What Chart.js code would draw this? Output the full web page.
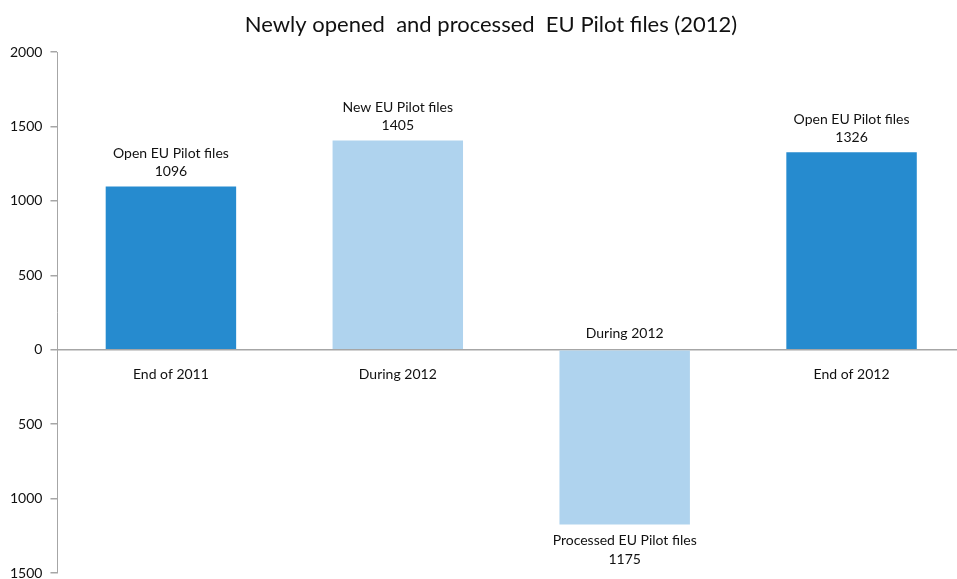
<!DOCTYPE html>
<html lang="en">
    <head>
        <meta charset="UTF-8" />
        <title>EU Pilot files 2012</title>
        <style>
            body, html {
                margin: 0;
                padding: 0;
                background: #ffffff;
                overflow: hidden;
            }
            /* the original plot is cropped on the right, so the canvas is a bit wider than the panel */
            #chart-panel {
                width: 957px;
                height: 579px;
                overflow: hidden;
            }
        </style>
    </head>
    <body>
        <div id="chart-panel">
            <canvas id="bar-chart" width="967" height="579"></canvas>
        </div>
    </body>
    <script src="https://cdn.jsdelivr.net/npm/chart.js@4.4.0/dist/chart.umd.min.js"></script>
    <script>
        const title = "Newly opened  and processed  EU Pilot files (2012)";
        const categories = ["End of 2011", "During 2012", "During 2012", "End of 2012"];
        const barNames = ["Open EU Pilot files", "New EU Pilot files", "Processed EU Pilot files", "Open EU Pilot files"];
        const values = [1096, 1405, -1175, 1326];
        const colors = ["#268bcf", "#afd3ee", "#afd3ee", "#268bcf"];
        const yTicks = [-1500, -1000, -500, 0, 500, 1000, 1500, 2000];

        const FONT = "Lato, 'Open Sans', sans-serif";

        // title + two-line bar labels + category names at the zero line
        const barLabels = {
            id: "barLabels",
            afterDatasetsDraw(chart) {
                const ctx = chart.ctx;
                const meta = chart.getDatasetMeta(0);
                const zeroY = chart.scales.y.getPixelForValue(0);
                ctx.save();
                ctx.fillStyle = "#111";
                ctx.textAlign = "center";
                ctx.textBaseline = "middle";
                ctx.font = "22px " + FONT;
                ctx.fillText(title, 491, 25);
                ctx.font = "14px " + FONT;
                meta.data.forEach((bar, i) => {
                    let v = values[i];
                    if (v >= 0) {
                        ctx.fillText(Math.abs(v), bar.x, bar.y - 15);
                        ctx.fillText(barNames[i], bar.x, bar.y - 33);
                        ctx.fillText(categories[i], bar.x, zeroY + 25);
                    } else {
                        ctx.fillText(barNames[i], bar.x, bar.y + 16);
                        ctx.fillText(Math.abs(v), bar.x, bar.y + 35);
                        ctx.fillText(categories[i], bar.x, zeroY - 16);
                    }
                });
                ctx.restore();
            },
        };

        let chart = new Chart(document.getElementById("bar-chart"), {
            type: "bar",
            data: {
                labels: categories.map((c, i) => i),
                datasets: [
                    {
                        data: values,
                        backgroundColor: colors,
                        borderWidth: 0,
                        barPercentage: 0.575,
                        categoryPercentage: 1,
                    },
                ],
            },
            options: {
                responsive: false,
                animation: false,
                layout: {
                    padding: { left: 2, right: 2, top: 52, bottom: 6 },
                },
                plugins: {
                    legend: { display: false },
                    tooltip: { enabled: false },
                    title: { display: false },
                },
                scales: {
                    x: {
                        display: false,
                    },
                    y: {
                        min: yTicks[0],
                        max: yTicks[yTicks.length - 1],
                        afterBuildTicks: (axis) => {
                            axis.ticks = yTicks.map((v) => ({ value: v }));
                        },
                        afterFit: (axis) => {
                            axis.paddingTop = 0;
                            axis.paddingBottom = 0;
                        },
                        border: { display: true, color: "#a6a6a6", width: 1 },
                        grid: {
                            drawOnChartArea: true,
                            color: (c) => (c.tick && c.tick.value === 0 ? "#a6a6a6" : "rgba(0,0,0,0)"),
                            tickColor: "#a6a6a6",
                            tickLength: 7,
                            lineWidth: 1.5,
                        },
                        ticks: {
                            color: "#111",
                            padding: 8,
                            font: { family: FONT, size: 14 },
                            callback: (v) => Math.abs(v),
                        },
                    },
                },
            },
            plugins: [barLabels],
        });
    </script>
</html>
